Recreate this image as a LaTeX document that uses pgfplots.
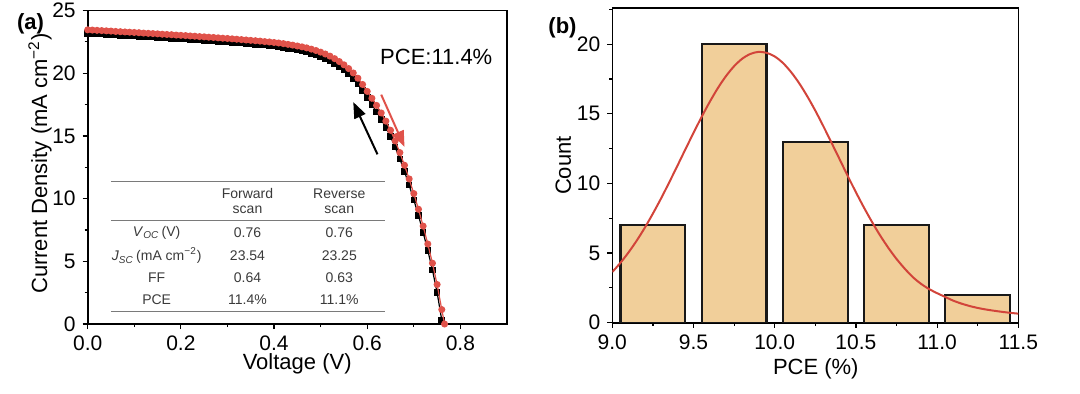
\documentclass[border=0pt]{standalone}
\usepackage{pgfplots}
\pgfplotsset{compat=1.18}
\usepackage{fontspec}
\setmainfont{Liberation Sans}
\usetikzlibrary{arrows.meta}
\definecolor{barfill}{HTML}{F1CF9A}
\definecolor{fitred}{HTML}{D2443A}
\definecolor{scanred}{HTML}{E0524A}
\definecolor{tabtext}{HTML}{3A3A3A}
\definecolor{tabrule}{HTML}{7A7A7A}
\pgfplotsset{
  myaxis/.style={
    scale only axis,
    clip mode=individual,
    axis line style={line width=0.8pt},
    tick align=outside, tick pos=left,
    major tick length=2.5pt, minor tick length=1.5pt,
    every tick/.style={line width=0.6pt, black},
    /pgf/number format/assume math mode=true,
    ticklabel style={font=\fontsize{10.5}{12}\selectfont},
  }
}
\begin{document}
\begin{tikzpicture}
% ---------- panel (a)
\begin{axis}[myaxis, at={(43.85pt,34.5pt)}, anchor=south west,
  width=209.65pt, height=156.75pt,
  xmin=0, xmax=0.9, ymin=0, ymax=25,
  xtick={0,0.2,0.4,0.6,0.8}, minor xtick={0.1,0.3,0.5,0.7},
  ytick={0,5,10,15,20,25}, minor ytick={2.5,7.5,12.5,17.5,22.5},
  xticklabel style={/pgf/number format/.cd, fixed, fixed zerofill, precision=1},
]
\addplot[black, line width=0.6pt, mark=square*, mark size=1.35pt, mark options={solid, fill=black}] table {
0.00 23.18
0.01 23.16
0.02 23.14
0.03 23.12
0.04 23.10
0.05 23.08
0.06 23.05
0.07 23.03
0.08 23.01
0.09 22.99
0.10 22.97
0.11 22.95
0.12 22.92
0.13 22.90
0.14 22.88
0.15 22.86
0.16 22.83
0.17 22.81
0.18 22.79
0.19 22.76
0.20 22.74
0.21 22.72
0.22 22.69
0.23 22.67
0.24 22.64
0.25 22.62
0.26 22.59
0.27 22.57
0.28 22.54
0.29 22.51
0.30 22.49
0.31 22.46
0.32 22.43
0.33 22.40
0.34 22.37
0.35 22.34
0.36 22.31
0.37 22.28
0.38 22.24
0.39 22.20
0.40 22.16
0.41 22.11
0.42 22.05
0.43 21.99
0.44 21.92
0.45 21.85
0.46 21.77
0.47 21.68
0.48 21.57
0.49 21.45
0.50 21.32
0.51 21.17
0.52 20.99
0.53 20.78
0.54 20.54
0.55 20.27
0.56 19.95
0.57 19.58
0.58 19.14
0.59 18.62
0.60 18.05
0.61 17.50
0.62 16.92
0.63 16.32
0.64 15.67
0.65 14.95
0.66 14.10
0.67 13.17
0.68 12.16
0.69 11.07
0.70 9.90
0.71 8.65
0.72 7.30
0.73 5.86
0.74 4.30
0.75 2.50
0.76 0.30
};
\addplot[scanred, line width=0.6pt, mark=*, mark size=1.45pt, mark options={solid, fill=scanred}] table {
0.00 23.46
0.01 23.44
0.02 23.42
0.03 23.40
0.04 23.38
0.05 23.36
0.06 23.33
0.07 23.31
0.08 23.29
0.09 23.27
0.10 23.25
0.11 23.23
0.12 23.20
0.13 23.18
0.14 23.16
0.15 23.14
0.16 23.11
0.17 23.09
0.18 23.07
0.19 23.04
0.20 23.02
0.21 23.00
0.22 22.97
0.23 22.95
0.24 22.92
0.25 22.90
0.26 22.87
0.27 22.85
0.28 22.82
0.29 22.79
0.30 22.77
0.31 22.74
0.32 22.71
0.33 22.68
0.34 22.65
0.35 22.62
0.36 22.59
0.37 22.56
0.38 22.52
0.39 22.49
0.40 22.45
0.41 22.41
0.42 22.36
0.43 22.30
0.44 22.24
0.45 22.17
0.46 22.10
0.47 22.02
0.48 21.92
0.49 21.81
0.50 21.68
0.51 21.53
0.52 21.36
0.53 21.16
0.54 20.93
0.55 20.67
0.56 20.37
0.57 20.02
0.58 19.60
0.59 19.10
0.60 18.55
0.61 18.00
0.62 17.43
0.63 16.83
0.64 16.18
0.65 15.45
0.66 14.60
0.67 13.67
0.68 12.66
0.69 11.57
0.70 10.40
0.71 9.15
0.72 7.81
0.73 6.38
0.74 4.85
0.75 3.15
0.76 1.15
0.766 0.00
};
% arrows
\draw[-{Triangle[width=6pt,length=8pt]}, line width=1pt, black] (axis cs:0.622,13.53) -- (axis cs:0.57,17.7);
\draw[-{Triangle[width=6pt,length=8pt]}, line width=1pt, scanred] (axis cs:0.630,18.29) -- (axis cs:0.680,14.12);
\node[anchor=west, font=\fontsize{11}{13}\selectfont, inner sep=0pt] at (axis cs:0.627,21.26) {PCE:11.4\%};
% inset table
\draw[tabrule, line width=0.5pt] (axis cs:0.05,11.33) -- (axis cs:0.639,11.33);
\draw[tabrule, line width=0.5pt] (axis cs:0.05,8.22) -- (axis cs:0.639,8.22);
\draw[tabrule, line width=0.5pt] (axis cs:0.05,0.98) -- (axis cs:0.639,0.98);
\begin{scope}[every node/.style={font=\fontsize{7}{8}\selectfont, text=tabtext, inner sep=0pt}]
\node at (axis cs:0.343,10.4) {Forward};
\node at (axis cs:0.343,9.08) {scan};
\node at (axis cs:0.54,10.4) {Reverse};
\node at (axis cs:0.54,9.08) {scan};
\node at (axis cs:0.148,7.3) {\textit{V}\textsubscript{\textit{OC}}\,(V)};
\node at (axis cs:0.343,7.3) {0.76};
\node at (axis cs:0.54,7.3) {0.76};
\node at (axis cs:0.148,5.44) {\textit{J}\textsubscript{\textit{SC}}\,(mA cm\textsuperscript{−2})};
\node at (axis cs:0.343,5.44) {23.54};
\node at (axis cs:0.54,5.44) {23.25};
\node at (axis cs:0.148,3.69) {FF};
\node at (axis cs:0.343,3.69) {0.64};
\node at (axis cs:0.54,3.69) {0.63};
\node at (axis cs:0.148,1.91) {PCE};
\node at (axis cs:0.343,1.91) {11.4\%};
\node at (axis cs:0.54,1.91) {11.1\%};
\end{scope}
\end{axis}
% ---------- panel (b)
\begin{axis}[myaxis, at={(306.15pt,35.15pt)}, anchor=south west,
  width=203pt, height=157.35pt,
  xmin=9, xmax=11.5, ymin=0, ymax=22.6,
  xtick={9,9.5,10,10.5,11,11.5}, minor xtick={9.25,9.75,10.25,10.75,11.25},
  ytick={0,5,10,15,20}, minor ytick={2.5,7.5,12.5,17.5,22.5},
  xticklabel style={/pgf/number format/.cd, fixed, fixed zerofill, precision=1},
]
\addplot[ybar, bar width=0.4, fill=barfill, draw=black!90, line width=1.1pt] coordinates {
(9.25,7) (9.75,20) (10.25,13) (10.75,7) (11.25,2)
};
\addplot[fitred, line width=1pt, smooth] table {
9.00 3.64
9.05 4.30
9.10 5.05
9.15 5.89
9.20 6.82
9.25 7.84
9.30 8.92
9.35 10.07
9.40 11.25
9.45 12.45
9.50 13.63
9.55 14.78
9.60 15.86
9.65 16.85
9.70 17.71
9.75 18.42
9.80 18.96
9.85 19.30
9.90 19.45
9.95 19.38
10.00 19.12
10.05 18.66
10.10 18.01
10.15 17.21
10.20 16.27
10.25 15.23
10.30 14.10
10.35 12.92
10.40 11.73
10.45 10.53
10.50 9.37
10.55 8.26
10.60 7.22
10.65 6.25
10.70 5.37
10.75 4.58
10.80 3.89
10.85 3.28
10.90 2.80
10.95 2.42
11.00 2.12
11.05 1.85
11.10 1.58
11.15 1.37
11.20 1.20
11.25 1.06
11.30 0.95
11.35 0.86
11.40 0.78
11.45 0.71
11.50 0.65
};
\end{axis}
% ---------- outer labels
\node[font=\fontsize{11}{13}\selectfont, rotate=90] at (20pt,114.75pt) {Current Density (mA cm\textsuperscript{−2})};
\node[font=\fontsize{11}{13}\selectfont] at (148.6pt,14.5pt) {Voltage (V)};
\node[font=\fontsize{11}{13}\selectfont, rotate=90] at (281.7pt,113.7pt) {Count};
\node[font=\fontsize{11}{13}\selectfont] at (407.9pt,12pt) {PCE (\%)};
\node[font=\bfseries\fontsize{11}{13}\selectfont] at (15.25pt,184.5pt) {(a)};
\node[font=\bfseries\fontsize{11}{13}\selectfont] at (281.25pt,182.75pt) {(b)};
\pgfresetboundingbox
\path (0,0) rectangle (540pt,196.5pt);
\end{tikzpicture}
\end{document}
